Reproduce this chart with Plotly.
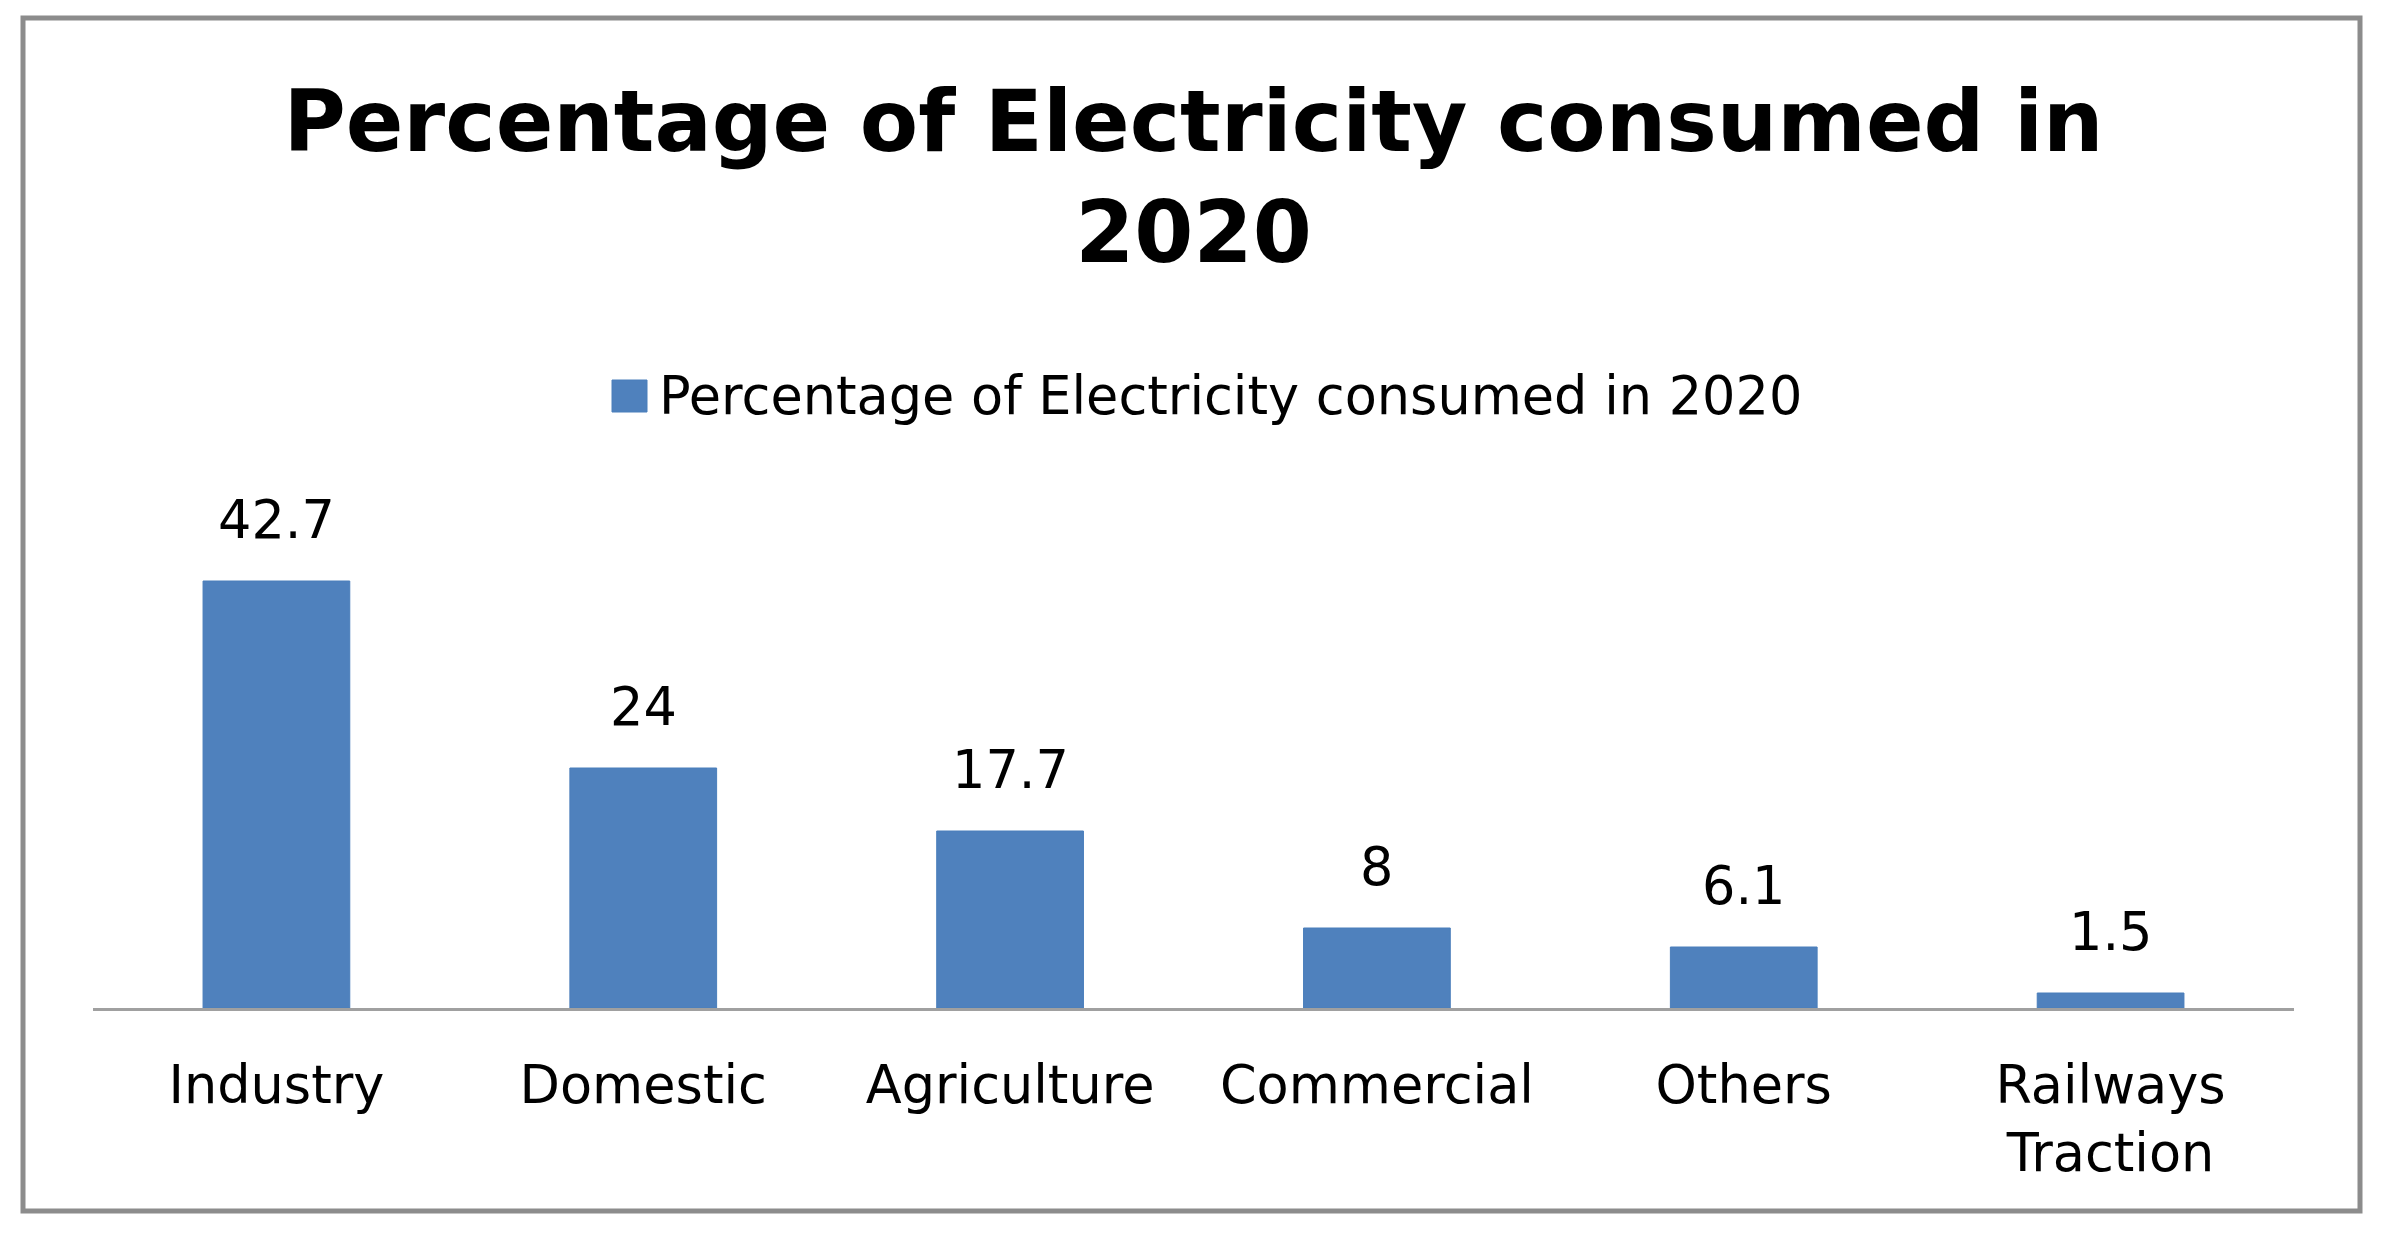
import plotly.graph_objects as go

# ---- data ----
categories = ["Industry", "Domestic", "Agriculture", "Commercial", "Others", "Railways<br>Traction"]
values = [42.7, 24, 17.7, 8, 6.1, 1.5]
value_labels = ["42.7", "24", "17.7", "8", "6.1", "1.5"]
series_name = "Percentage of Electricity consumed in 2020"
title_text = "Percentage of Electricity consumed in<br>2020"

# ---- layout constants (screen pixels; page body has an 8px margin) ----
OFF = 8
SW, SH = 2384, 1234
W, H = SW - 2 * OFF, SH - 2 * OFF
PL, PR, PT, PB = 93, 2294, 558, 1008          # plot area on screen
ML, MR, MT, MB = PL - OFF, W - (PR - OFF), PT - OFF, H - (PB - OFF)
PW, PH = W - ML - MR, H - MT - MB
BAR_COLOR = "#4F81BD"
FONT = "DejaVu Sans"
FS = 52.5


def px_x(X):
    return (X - OFF - ML) / PW


def px_y(Y):
    return (H - MB - (Y - OFF)) / PH


fig = go.Figure()
fig.add_trace(go.Bar(
    x=categories, y=values, name=series_name,
    marker=dict(color=BAR_COLOR, line=dict(color="#4A7EBB", width=1)),
    showlegend=False,
))

# data labels above bars
for c, v, t in zip(categories, values, value_labels):
    fig.add_annotation(x=c, y=v, text=t, showarrow=False, yanchor="bottom",
                       yshift=29, font=dict(family=FONT, size=FS, color="#000000"))

# legend (manual, to get the large key square)
fig.add_shape(type="rect", xref="paper", yref="paper",
              x0=px_x(612), x1=px_x(647), y0=px_y(412), y1=px_y(380),
              fillcolor=BAR_COLOR, line=dict(color="#4A7EBB", width=1))
fig.add_annotation(xref="paper", yref="paper", x=px_x(657), y=px_y(396),
                   xanchor="left", yanchor="middle", showarrow=False,
                   text=series_name, font=dict(family=FONT, size=FS, color="#000000"))

# outer border
fig.add_shape(type="rect", xref="paper", yref="paper",
              x0=px_x(23), x1=px_x(2360), y0=px_y(1211), y1=px_y(18),
              line=dict(color="#8C8C8C", width=5), fillcolor="rgba(0,0,0,0)", layer="below")

fig.update_layout(
    width=W, height=H,
    margin=dict(l=ML, r=MR, t=MT, b=MB, autoexpand=False),
    paper_bgcolor="white", plot_bgcolor="white",
    bargap=0.6,
    title=dict(text=title_text, x=0.5, xanchor="center", xref="paper",
               y=1 - 143 / H, yanchor="top", yref="container",
               font=dict(family=FONT, size=85, color="#000000", weight="bold")),
    xaxis=dict(showline=True, linecolor="#A0A0A0", linewidth=3, ticks="",
               showgrid=False, zeroline=False, ticklabelstandoff=29,
               tickfont=dict(family=FONT, size=FS, color="#000000")),
    yaxis=dict(range=[0, 45], visible=False, showgrid=False, zeroline=False),
    showlegend=False,
)

fig.write_html("out.html")
